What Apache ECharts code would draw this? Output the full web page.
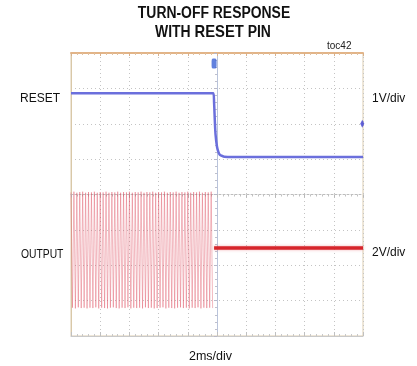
<!DOCTYPE html>
<html>
<head>
<meta charset="utf-8">
<script src="https://cdn.jsdelivr.net/npm/echarts@6/dist/echarts.min.js"></script>
<style>
html,body{margin:0;padding:0;background:#fff;}
#c{width:417px;height:366px;}
</style>
</head>
<body>
<div id="c"></div>
<script>
// time in ms (10 divisions x 2 ms), vertical in screen divisions (0..8)
const resetTimes  = [0, 9.75, 9.8, 9.85, 9.9, 10.0, 10.1, 10.2, 10.35, 10.5, 11, 20];
const resetLevels = [6.86, 6.86, 6.6, 6.1, 5.7, 5.35, 5.2, 5.12, 5.09, 5.07, 5.06, 5.06];

const burstTimes = [
  0.0,0.1,0.2,0.3,0.4,0.5,0.6,0.7,0.8,0.9,
  1.0,1.1,1.2,1.3,1.4,1.5,1.6,1.7,1.8,1.9,
  2.0,2.1,2.2,2.3,2.4,2.5,2.6,2.7,2.8,2.9,
  3.0,3.1,3.2,3.3,3.4,3.5,3.6,3.7,3.8,3.9,
  4.0,4.1,4.2,4.3,4.4,4.5,4.6,4.7,4.8,4.9,
  5.0,5.1,5.2,5.3,5.4,5.5,5.6,5.7,5.8,5.9,
  6.0,6.1,6.2,6.3,6.4,6.5,6.6,6.7,6.8,6.9,
  7.0,7.1,7.2,7.3,7.4,7.5,7.6,7.7,7.8,7.9,
  8.0,8.1,8.2,8.3,8.4,8.5,8.6,8.7,8.8,8.9,
  9.0,9.1,9.2,9.3,9.4,9.5,9.6,9.7
];
const burstLevels = [
  4.06,0.80,4.08,0.78,4.05,0.81,4.07,0.79,4.08,0.80,
  4.05,0.78,4.07,0.80,4.06,0.79,4.08,0.81,4.05,0.78,
  4.07,0.80,4.06,0.79,4.08,0.78,4.05,0.80,4.07,0.81,
  4.06,0.79,4.08,0.78,4.05,0.80,4.07,0.79,4.06,0.81,
  4.08,0.78,4.05,0.80,4.07,0.79,4.06,0.80,4.08,0.78,
  4.05,0.81,4.07,0.79,4.06,0.80,4.08,0.78,4.05,0.79,
  4.07,0.80,4.06,0.81,4.08,0.78,4.05,0.80,4.07,0.79,
  4.06,0.78,4.08,0.80,4.05,0.81,4.07,0.79,4.06,0.80,
  4.08,0.78,4.05,0.80,4.07,0.79,4.06,0.81,4.08,0.78,
  4.05,0.80,4.07,0.79,4.06,0.80,4.08,0.79
];

const outTimes  = [9.8, 20];
const outLevels = [2.49, 2.49];

// cursor markers: [time, level]
const triggerMark = [9.8, 7.7];
const refMarks = [[19.95, 6.0]];

const titleLine1 = 'TURN-OFF RESPONSE';
const titleLine2a = 'WITH ';
const titleLine2b = 'RESET';
const titleLine2c = ' PIN';
const tocLabel = 'toc42';
const ch1Name = 'RESET', ch1Scale = '1V/div';
const ch2Name = 'OUTPUT', ch2Scale = '2V/div';
const timeScale = '2ms/div';

const zip = (a, b) => a.map((v, i) => [v, b[i]]);

const chart = echarts.init(document.getElementById('c'), null, {renderer: 'canvas'});
const G = {left: 71, right: 54, top: 53, bottom: 30};
const FF = 'Liberation Sans, Arial, sans-serif';

chart.setOption({
  animation: false,
  backgroundColor: '#fff',
  graphic: [
    {type: 'text', x: 214, y: 14, scaleX: 0.87, style: {text: titleLine1, font: 'bold 16px ' + FF, fill: '#111', align: 'center', verticalAlign: 'middle'}},
    {type: 'text', x: 213, y: 32, scaleX: 0.87, style: {
      text: '{a|' + titleLine2a + '}{b|' + titleLine2b + '}{a|' + titleLine2c + '}',
      align: 'center', verticalAlign: 'middle',
      rich: {
        a: {fontFamily: FF, fontWeight: 'bold', fontSize: 16, fill: '#111', color: '#111', verticalAlign: 'bottom', lineHeight: 18},
        b: {fontFamily: FF, fontWeight: 'bold', fontSize: 17, fill: '#111', color: '#111', verticalAlign: 'bottom', lineHeight: 18}
      }}},
    {type: 'text', left: 327, top: 41, style: {text: tocLabel, font: '10px ' + FF, fill: '#222'}},
    {type: 'text', left: 20, top: 93, style: {text: ch1Name, font: '12px ' + FF, fill: '#111'}},
    {type: 'text', left: 372, top: 93, style: {text: ch1Scale, font: '12px ' + FF, fill: '#111'}},
    {type: 'text', x: 21, y: 255, scaleX: 0.86, style: {text: ch2Name, font: '12px ' + FF, fill: '#111', verticalAlign: 'middle'}},
    {type: 'text', left: 372, top: 247, style: {text: ch2Scale, font: '12px ' + FF, fill: '#111'}},
    {type: 'text', left: 189, top: 350, style: {text: timeScale, font: '12.5px ' + FF, fill: '#111'}}
  ],
  grid: {left: G.left, right: G.right, top: G.top, bottom: G.bottom, show: true, borderColor: '#dccdb0', borderWidth: 1, backgroundColor: '#fff'},
  xAxis: [
    {type: 'value', min: 0, max: 20, interval: 2, position: 'bottom',
      axisLabel: {show: false},
      axisLine: {show: true, onZero: false, lineStyle: {color: '#c9c9c9', width: 1}},
      axisTick: {show: true, inside: true, length: 4, lineStyle: {color: '#c0c0c0'}},
      minorTick: {show: true, splitNumber: 5, length: 2, lineStyle: {color: '#c8c8c8'}},
      splitLine: {show: true, lineStyle: {color: '#c4c4c4', type: [1, 3], width: 1}}},
    {type: 'value', min: 0, max: 20, interval: 2, position: 'top',
      axisLabel: {show: false},
      axisLine: {show: true, onZero: false, lineStyle: {color: '#e2b487', width: 2}},
      axisTick: {show: true, inside: true, length: 3, lineStyle: {color: '#d9b08a'}},
      minorTick: {show: true, splitNumber: 5, length: 2, lineStyle: {color: '#e0c0a0'}},
      splitLine: {show: false}},
    {type: 'value', min: 0, max: 20, interval: 2, position: 'bottom', offset: -141.5,
      axisLabel: {show: false},
      axisLine: {show: true, onZero: false, lineStyle: {color: '#bdbdbd', type: [2, 2]}},
      axisTick: {show: true, inside: false, length: 3, lineStyle: {color: '#b8b8b8'}},
      minorTick: {show: true, splitNumber: 5, length: 2, lineStyle: {color: '#c0c0c0'}},
      splitLine: {show: false}}
  ],
  yAxis: [
    {type: 'value', min: 0, max: 8, interval: 1,
      axisLabel: {show: false},
      axisLine: {show: true, onZero: false, lineStyle: {color: '#d9c8a8'}},
      axisTick: {show: false},
      splitLine: {show: true, lineStyle: {color: '#c4c4c4', type: [1, 3], width: 1}}},
    {type: 'value', min: 0, max: 8, interval: 1, position: 'left', offset: -146,
      axisLabel: {show: false},
      axisLine: {show: true, onZero: false, lineStyle: {color: '#b9c3da', width: 1}},
      axisTick: {show: true, inside: false, length: 3, lineStyle: {color: '#b8b8c8'}},
      minorTick: {show: true, splitNumber: 5, length: 2, lineStyle: {color: '#c0c0cc'}},
      splitLine: {show: false}}
  ],
  series: [
    {name: 'burst', type: 'line', data: zip(burstTimes, burstLevels), symbol: 'none',
      lineStyle: {color: 'rgba(222,70,90,0.38)', width: 1}, z: 3},
    {name: 'output', type: 'line', data: zip(outTimes, outLevels), symbol: 'none',
      lineStyle: {color: '#d6252b', width: 3.5, shadowColor: 'rgba(230,80,90,0.5)', shadowBlur: 3}, z: 4},
    {name: 'reset', type: 'line', data: zip(resetTimes, resetLevels), symbol: 'none', smooth: 0.3,
      lineStyle: {color: '#6b6fdc', width: 2.5}, z: 5},
    {name: 'trig', type: 'scatter', data: [triggerMark], symbol: 'roundRect', symbolSize: [5, 10],
      itemStyle: {color: '#3a62d6'}, z: 6},
    {name: 'refs', type: 'scatter', data: refMarks, symbol: 'diamond', symbolSize: [4, 8],
      itemStyle: {color: '#3a3ad0'}, z: 6}
  ]
});
</script>
</body>
</html>
